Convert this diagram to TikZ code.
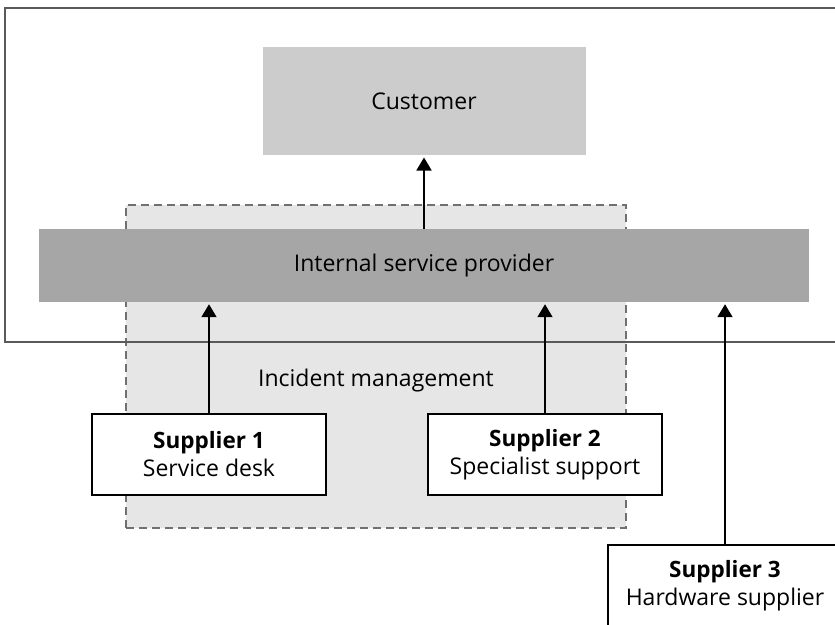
\documentclass[tikz,border=0pt]{standalone}
\usepackage{fontspec}
\setmainfont{Open Sans}
\usepackage{xcolor}
\usepackage{tikz}
\usetikzlibrary{arrows.meta}

\definecolor{custgray}{HTML}{CCCCCC}
\definecolor{ispgray}{HTML}{A6A6A6}
\definecolor{incgray}{HTML}{E6E6E6}
\definecolor{framegray}{HTML}{5A5A5A}
\definecolor{dashgray}{HTML}{707070}

\newcommand{\suphead}[1]{{\fontsize{22.5}{28}\selectfont\bfseries #1}}

\begin{document}
\begin{tikzpicture}[
    x=1pt, y=-1pt,
    font=\fontsize{23}{28}\selectfont,
    layer/.style={rectangle, inner sep=0pt},
    supplier/.style={rectangle, draw=black, line width=1.6pt, fill=white, minimum width=234pt, minimum height=81pt, inner sep=0pt, align=center},
    arrow/.style={-{Triangle[width=15pt,length=13pt]}, line width=1.8pt, shorten >=2pt}
]
\useasboundingbox (0,0) rectangle (835,624);
\clip (0,0) rectangle (835,624);

\node[layer, draw=dashgray, line width=1.3pt, dash pattern=on 8pt off 5pt, fill=incgray, minimum width=500pt, minimum height=323pt] (incident) at (376,366.5) {};
\node[layer, draw=framegray, line width=2pt, minimum width=842pt, minimum height=334pt] (frame) at (426,175) {};
\node[layer, fill=custgray, minimum width=323pt, minimum height=108pt] (customer) at (424,101.3) {Customer};
\node[layer, fill=ispgray, minimum width=770pt, minimum height=73pt] (isp) at (424,265.5) {Internal service provider};
\node (inclabel) at (376,381) {Incident management};

\node[supplier] (sup1) at (209,454.5) {\suphead{Supplier 1}\\Service desk};
\node[supplier] (sup2) at (545,454.5) {\suphead{Supplier 2}\\Specialist support};
\node[supplier] (sup3) at (725,585.5) {\suphead{Supplier 3}\\Hardware supplier};

\draw[arrow] (isp.north) -- (customer.south);
\draw[arrow] (sup1.north) -- (sup1.north |- isp.south);
\draw[arrow] (sup2.north) -- (sup2.north |- isp.south);
\draw[arrow] (sup3.north) -- (sup3.north |- isp.south);
\end{tikzpicture}
\end{document}
